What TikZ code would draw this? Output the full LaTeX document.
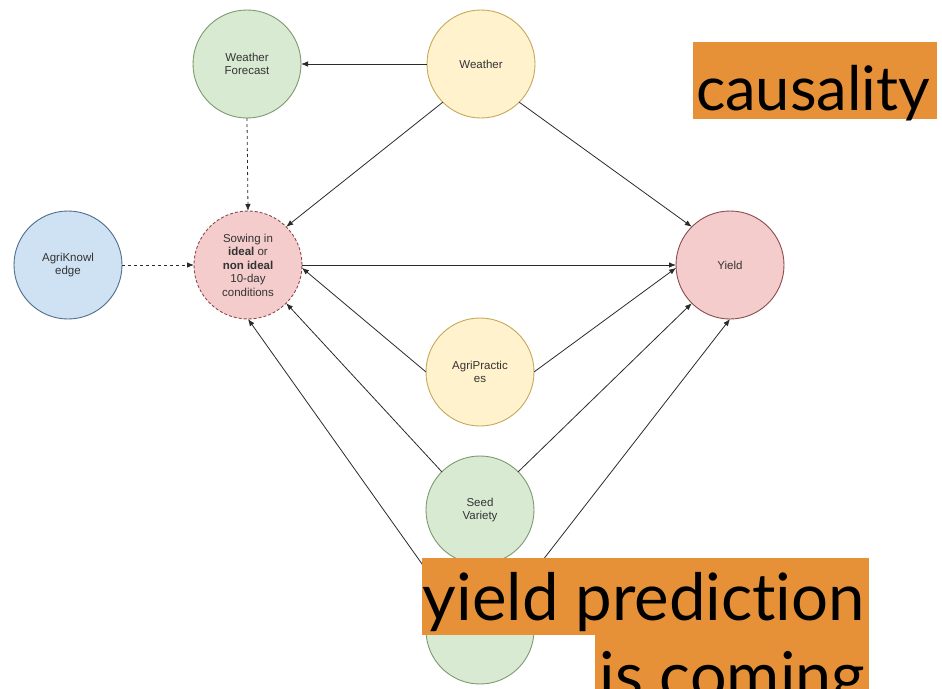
\documentclass[tikz,border=0pt]{standalone}
\usepackage{fontspec}
\setmainfont{Liberation Sans}
\newfontfamily\bigfont[Ligatures={NoCommon,NoRare,NoDiscretionary}]{Lato}
\usetikzlibrary{arrows.meta}
\definecolor{gfill}{HTML}{D9EAD3}
\definecolor{gdraw}{HTML}{7C9A6E}
\definecolor{yfill}{HTML}{FFF2CC}
\definecolor{ydraw}{HTML}{C4A95A}
\definecolor{pfill}{HTML}{F4CCCC}
\definecolor{pdraw}{HTML}{8C4B4B}
\definecolor{bfill}{HTML}{CFE2F3}
\definecolor{bdraw}{HTML}{4F6D8C}
\definecolor{edgecol}{HTML}{2B2B2B}
\definecolor{txtcol}{HTML}{333333}
\definecolor{orng}{HTML}{E69138}
\tikzset{
  cnode/.style={circle, minimum size=108pt, inner sep=0pt, outer sep=0pt, line width=0.9pt,
    align=center, text=txtcol, font=\fontsize{11.5}{13.5}\selectfont},
  greenn/.style={cnode, fill=gfill, draw=gdraw},
  yelln/.style={cnode, fill=yfill, draw=ydraw},
  pinkn/.style={cnode, fill=pfill, draw=pdraw},
  bluen/.style={cnode, fill=bfill, draw=bdraw},
  edge/.style={draw=edgecol, line width=0.8pt, -{Latex[length=7pt,width=5.5pt]}},
  dashedge/.style={edge, dash pattern=on 3pt off 3pt},
  bigtext/.style={anchor=base east, inner sep=0pt, outer sep=0pt, text=black}
}
\begin{document}
\begin{tikzpicture}[x=1pt,y=-1pt]
\clip (0,0) rectangle (942,688);
\fill[white] (0,0) rectangle (942,688);

\node[greenn] (wf) at (247,64) {Weather\\Forecast};
\node[yelln] (w) at (481,64) {Weather};
\node[pinkn, dash pattern=on 3pt off 2pt] (sow) at (248,265) {Sowing in\\\textbf{ideal} or\\\textbf{non ideal}\\10-day\\conditions};
\node[bluen] (ak) at (68,265) {AgriKnowl\\edge};
\node[pinkn] (yl) at (730,265) {Yield};
\node[yelln] (ap) at (480,372) {AgriPractic\\es};
\node[greenn] (sv) at (480,510) {Seed\\Variety};
\node[greenn] (bn) at (480,630) {};

\draw[edge] (w.west) -- (wf.east);
\draw[dashedge] (wf.south) -- (sow.north);
\draw[dashedge] (ak.east) -- (sow.west);
\draw[edge] (w.south west) -- (sow.north east);
\draw[edge] (w.south east) -- (yl.north west);
\draw[edge] (sow.east) -- (yl.west);
\draw[edge] (ap.west) -- (sow.-3);
\draw[edge] (ap.east) -- (yl.183);
\draw[edge] (sv.north west) -- (sow.south east);
\draw[edge] (sv.north east) -- (yl.south west);
\draw[edge] (bn.north west) -- (sow.south);
\draw[edge] (bn.north east) -- (yl.south);

\fill[orng] (693,42) rectangle (937,119);
\node[anchor=base west, inner sep=0pt, outer sep=0pt] (caus) at (696,110) {\resizebox{234pt}{!}{\bigfont causality}};

\fill[orng] (422,558) rectangle (869,635);
\fill[orng] (595,635) rectangle (869,700);
\node[bigtext] (yp) at (865,620) {\resizebox{442pt}{!}{\bigfont yield prediction}};
\node[bigtext] (ic) at (865,698) {\resizebox{265pt}{!}{\bigfont is coming}};
\end{tikzpicture}
\end{document}
